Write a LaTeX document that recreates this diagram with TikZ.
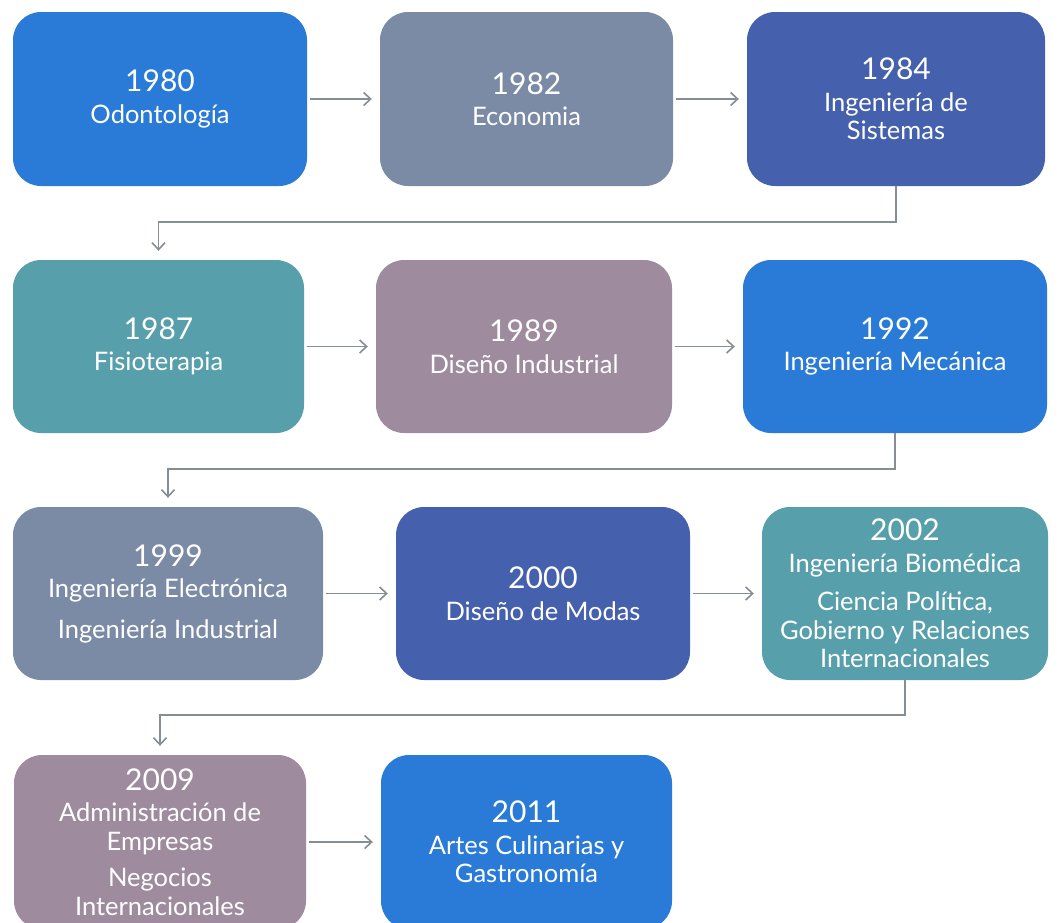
\documentclass[tikz,border=0pt]{standalone}
\usepackage{fontspec}
\setmainfont{Lato}
\usetikzlibrary{arrows.meta}

\definecolor{cBlue}{HTML}{2A7BD7}
\definecolor{cSlate}{HTML}{7C8BA5}
\definecolor{cNavy}{HTML}{4560AC}
\definecolor{cTeal}{HTML}{589FAC}
\definecolor{cMauve}{HTML}{9E8C9E}
\definecolor{cLine}{HTML}{858D95}

\newcommand\yr[1]{{\fontsize{30}{30}\selectfont #1}\\[3pt]}

\tikzset{
  card/.style={rounded corners=28pt, text=white, align=center,
    inner sep=0pt, font=\fontsize{25.5}{28.5}\selectfont},
  link/.style={draw=cLine, line width=1.8pt,
    -{Straight Barb[length=7pt,width=13pt,line width=1.6pt]},
    shorten <=3pt, shorten >=8pt},
  elbow/.style={draw=cLine, line width=1.8pt,
    -{Straight Barb[length=7pt,width=13pt,line width=1.6pt]},
    shorten >=9pt}
}

\begin{document}
\begin{tikzpicture}[x=1pt,y=-1pt]
\useasboundingbox (0,0) rectangle (1059,922);
\clip (0,0) rectangle (1059,922);
\fill[white] (0,0) rectangle (1059,922);

% row 1
\node[card, fill=cBlue,  minimum width=294pt, minimum height=174pt] (a1) at (160,99)
  {\yr{1980}Odontología};
\node[card, fill=cSlate, minimum width=293pt, minimum height=174pt] (a2) at (526.5,99)
  {\yr{1982}Economia};
\node[card, fill=cNavy,  minimum width=298pt, minimum height=174pt] (a3) at (896,99)
  {\yr{1984}Ingeniería de\\Sistemas};

% row 2
\node[card, fill=cTeal,  minimum width=291pt, minimum height=173pt] (b1) at (158.5,346.5)
  {\yr{1987}Fisioterapia};
\node[card, fill=cMauve, minimum width=296pt, minimum height=173pt] (b2) at (524,346.5)
  {\yr{1989}Diseño Industrial};
\node[card, fill=cBlue,  minimum width=304pt, minimum height=173pt] (b3) at (895,346.5)
  {\yr{1992}Ingeniería Mecánica};

% row 3
\node[card, fill=cSlate, minimum width=310pt, minimum height=173pt] (c1) at (168,593.5)
  {\yr{1999}Ingeniería Electrónica\\[12pt]Ingeniería Industrial};
\node[card, fill=cNavy,  minimum width=294pt, minimum height=173pt] (c2) at (543,593.5)
  {\yr{2000}Diseño de Modas};
\node[card, fill=cTeal,  minimum width=286pt, minimum height=173pt] (c3) at (905,593.5)
  {\yr{2002}Ingeniería Biomédica\\[10pt]Ciencia Política,\\Gobierno y Relaciones\\Internacionales};

% row 4
\node[card, fill=cMauve, minimum width=292pt, minimum height=174pt] (d1) at (160,842)
  {\yr{2009}Administración de\\Empresas\\[8pt]Negocios\\Internacionales};
\node[card, fill=cBlue,  minimum width=291pt, minimum height=174pt] (d2) at (526.5,842)
  {\yr{2011}Artes Culinarias y\\Gastronomía};

% straight links within each row
\draw[link] (a1) -- (a2);
\draw[link] (a2) -- (a3);
\draw[link] (b1) -- (b2);
\draw[link] (b2) -- (b3);
\draw[link] (c1) -- (c2);
\draw[link] (c2) -- (c3);
\draw[link] (d1) -- (d2);

% elbow links between rows
\draw[elbow] (a3.south) -- ++(0,36) -| (b1.north);
\draw[elbow] (b3.south) -- ++(0,36) -| (c1.north);
\draw[elbow] (c3.south) -- ++(0,35) -| (d1.north);
\end{tikzpicture}
\end{document}
